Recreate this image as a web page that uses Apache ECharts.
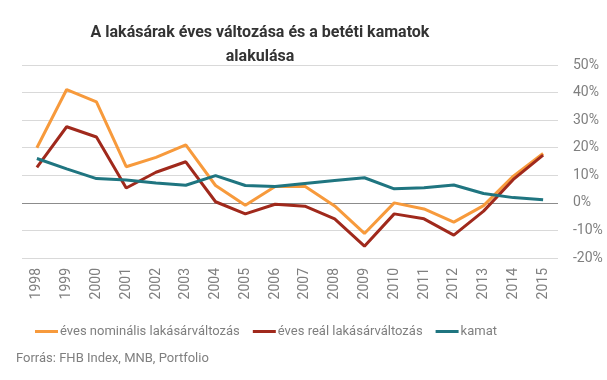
<!DOCTYPE html>
<html><head><meta charset="utf-8">
<script src="https://cdn.jsdelivr.net/npm/echarts@6/dist/echarts.min.js"></script>
<style>html,body{margin:0;padding:0;background:#fff}#c{width:607px;height:380px}</style>
</head><body><div id="c"></div>
<script>
const years = ['1998','1999','2000','2001','2002','2003','2004','2005','2006','2007','2008','2009','2010','2011','2012','2013','2014','2015'];
const nominal = [20.0, 41.1, 36.6, 13.1, 16.5, 21.0, 6.3, -0.9, 5.9, 6.0, -1.1, -11.1, 0.0, -2.2, -7.0, -1.0, 9.7, 17.9];
const real = [12.9, 27.6, 23.9, 5.4, 11.1, 14.9, 0.4, -4.0, -0.5, -1.2, -5.8, -15.7, -4.0, -5.8, -11.7, -3.0, 8.5, 17.3];
const kamat = [16.1, 12.3, 8.8, 8.3, 7.2, 6.4, 9.9, 6.3, 5.9, 7.0, 8.1, 9.1, 5.1, 5.5, 6.5, 3.4, 1.9, 1.1];
const seriesNames = ['éves nominális lakásárváltozás','éves reál lakásárváltozás','kamat'];
const colors = ['#F79A3C','#A0291C','#1F7580'];

const chart = echarts.init(document.getElementById('c'));
const gray = '#7f7f7f';
chart.setOption({
  animation:false,
  color: colors,
  title:{
    text:'A lakásárak éves változása és a betéti kamatok\nalakulása',
    left:255, top:16, textAlign:'center',
    textStyle:{fontFamily:'Roboto', fontWeight:'bold', fontSize:16, lineHeight:24, color:'#333'}
  },
  grid:{left:22, right:49, top:65, bottom:122},
  legend:{
    left:30, top:320, icon:'rect', itemWidth:23, itemHeight:3, itemGap:13,
    textStyle:{fontFamily:'Roboto', fontSize:13, color:gray, padding:[0,0,0,-3]},
    data: seriesNames
  },
  graphic:[{type:'text', left:16, top:352, style:{text:'Forrás: FHB Index, MNB, Portfolio', fontFamily:'Roboto', fontSize:13, fill:gray}}],
  xAxis:{
    type:'category', data:years, boundaryGap:true,
    axisLine:{show:false}, axisTick:{show:false},
    axisLabel:{rotate:90, fontFamily:'Roboto', fontSize:14, color:gray, margin:10, interval:0}
  },
  yAxis:{
    type:'value', position:'right', min:-20, max:50, interval:10,
    axisLine:{show:false}, axisTick:{show:false},
    axisLabel:{formatter:'{value}%', fontFamily:'Roboto', fontSize:14, color:gray, margin:15},
    splitLine:{lineStyle:{color:['#d9d9d9','#d9d9d9','#8c8c8c','#d9d9d9','#d9d9d9','#d9d9d9','#d9d9d9','#d9d9d9'], width:1}}
  },
  series:[
    {name:seriesNames[0], type:'line', data:nominal, symbol:'none', lineStyle:{width:3}},
    {name:seriesNames[1], type:'line', data:real, symbol:'none', lineStyle:{width:3}},
    {name:seriesNames[2], type:'line', data:kamat, symbol:'none', lineStyle:{width:3}}
  ]
});
</script></body></html>
